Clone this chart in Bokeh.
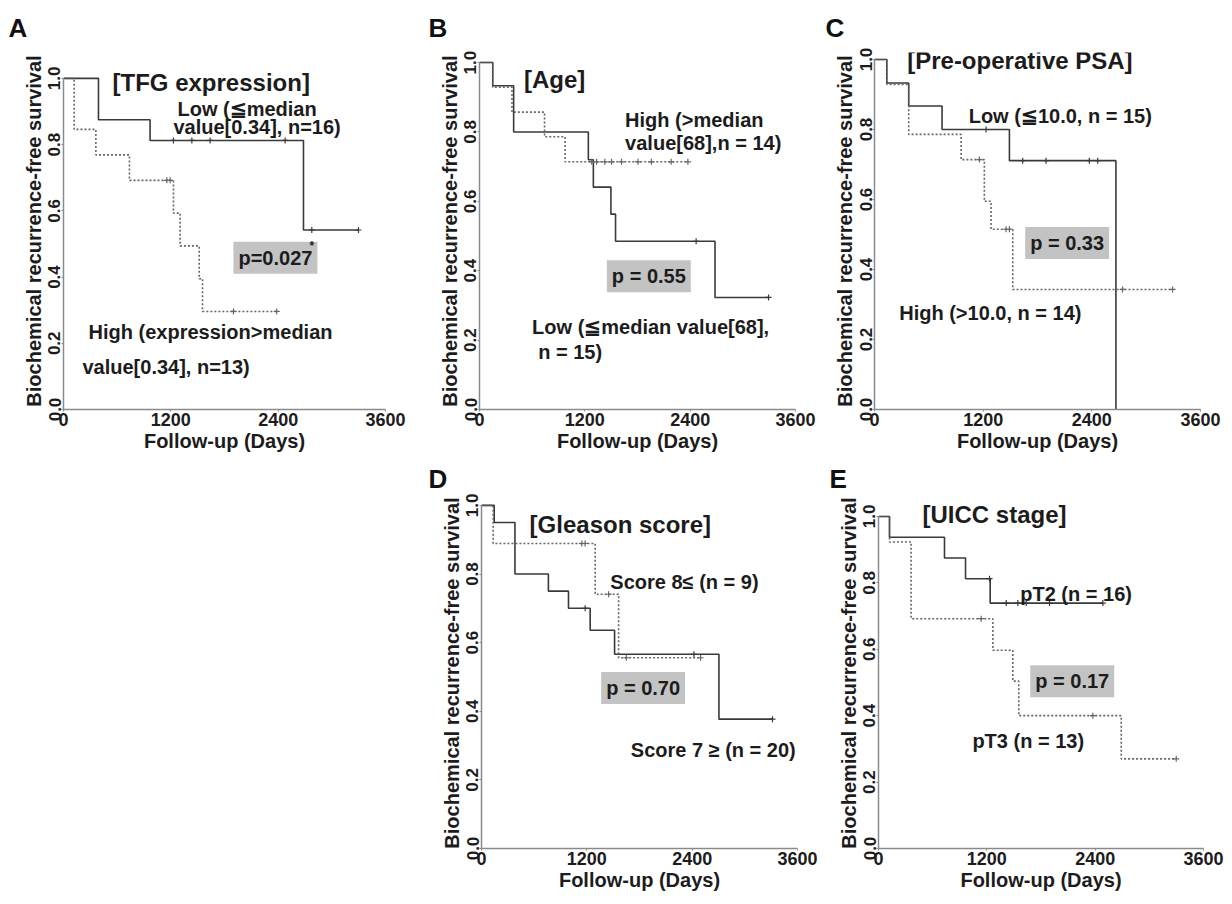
import numpy as np
from bokeh.plotting import figure
from bokeh.models import Range1d, FixedTicker, Label, Spacer
from bokeh.layouts import column, row
from bokeh.embed import file_html
from bokeh.resources import INLINE

FONT = "Liberation Sans"

# ---------------- axis ticks ----------------
x_ticks = [0, 1200, 2400, 3600]
x_tick_labels = ["0", "1200", "2400", "3600"]
y_ticks = [0.0, 0.2, 0.4, 0.6, 0.8, 1.0]
y_tick_labels = ["0.0", "0.2", "0.4", "0.6", "0.8", "1.0"]
x_label = "Follow-up (Days)"
y_label = "Biochemical recurrence-free survival"

# ---------------- A: TFG expression ----------------
A_low_t = [0, 391, 968, 2683, 3298]
A_low_s = [1.0, 0.875, 0.8125, 0.542, 0.542]
A_low_cens = [1229, 1435, 1639, 2478, 2776, 3298]
A_high_t = [0, 119, 362, 737, 1229, 1304, 1517, 1554, 2384]
A_high_s = [1.0, 0.846, 0.769, 0.692, 0.593, 0.494, 0.395, 0.296, 0.296]
A_high_cens = [1155, 1192, 1900, 2384]

# ---------------- B: Age ----------------
B_low_t = [0, 151, 389, 1240, 1297, 1497, 1550, 2683, 3293]
B_low_s = [1.0, 0.933, 0.80, 0.72, 0.641, 0.563, 0.485, 0.323, 0.323]
B_low_cens = [2468, 3293]
B_high_t = [0, 151, 370, 741, 975, 2374]
B_high_s = [1.0, 0.929, 0.857, 0.786, 0.714, 0.714]
B_high_cens = [1278, 1334, 1428, 1504, 1618, 1806, 1958, 2184, 2374]

# ---------------- C: Pre-operative PSA ----------------
C_low_t = [0, 136, 378, 746, 1490, 2666]
C_low_s = [1.0, 0.933, 0.867, 0.80, 0.711, 0.0]
C_low_cens = [1232, 1637, 1894, 2372, 2465]
C_high_t = [0, 136, 378, 956, 1213, 1287, 1527, 3292]
C_high_s = [1.0, 0.929, 0.786, 0.714, 0.595, 0.515, 0.343, 0.343]
C_high_cens = [1159, 1453, 1490, 2740, 3292]

# ---------------- D: Gleason score ----------------
D_le7_t = [0, 145, 381, 762, 991, 1238, 1516, 2705, 3315]
D_le7_s = [1.0, 0.95, 0.80, 0.75, 0.70, 0.636, 0.566, 0.377, 0.377]
D_le7_cens = [1181, 2420, 3315]
D_ge8_t = [0, 133, 1295, 1562, 2496]
D_ge8_s = [1.0, 0.889, 0.741, 0.556, 0.556]
D_ge8_cens = [1143, 1181, 1448, 1650, 2496]

# ---------------- E: UICC stage ----------------
E_pT2_t = [0, 122, 731, 964, 1237, 2485]
E_pT2_s = [1.0, 0.9375, 0.875, 0.8125, 0.739, 0.739]
E_pT2_cens = [1230, 1415, 1544, 1636, 1894, 2485]
E_pT3_t = [0, 122, 361, 1267, 1488, 1554, 2689, 3298]
E_pT3_s = [1.0, 0.923, 0.692, 0.597, 0.504, 0.40, 0.27, 0.27]
E_pT3_cens = [1137, 2375, 3298]

SOLID = dict(line_color="#3a3a3a", line_width=1.6)
DOTTED = dict(line_color="#666666", line_width=1.6, line_dash="2 2")
TXT = "#1c1c1c"


def surv_at(times, surv, pts):
    t = np.asarray(times, float)
    s = np.asarray(surv, float)
    idx = np.searchsorted(t, np.asarray(pts, float), side="right") - 1
    return s[idx]


def make_panel(letter, letter_off, letter_standoff, curves, texts, pval, star,
               W, H, L, R, T, B, ytop):
    p = figure(width=W, height=H, title=letter,
               min_border_left=L, min_border_right=R,
               min_border_top=T, min_border_bottom=B,
               x_range=Range1d(0, 3600), y_range=Range1d(0, ytop),
               output_backend="svg", toolbar_location=None, tools="")
    p.outline_line_color = None
    p.xgrid.visible = False
    p.ygrid.visible = False
    p.background_fill_color = "white"
    p.border_fill_color = "white"

    p.title.align = "left"
    p.title.offset = letter_off
    p.title.standoff = letter_standoff
    p.title.text_font = FONT
    p.title.text_font_size = "26px"
    p.title.text_font_style = "bold"
    p.title.text_color = "#111111"

    for ax in (p.xaxis[0], p.yaxis[0]):
        ax.axis_line_color = "#8a8a8a"
        ax.axis_line_width = 1.5
        ax.major_tick_line_color = "#8a8a8a"
        ax.major_tick_out = 2
        ax.major_tick_in = 0
        ax.minor_tick_line_color = None
        ax.major_label_standoff = 1
        ax.axis_label_standoff = 1
        ax.major_label_text_font = FONT
        ax.major_label_text_font_style = "bold"
        ax.major_label_text_color = TXT
        ax.axis_label_text_font = FONT
        ax.axis_label_text_font_style = "bold"
        ax.axis_label_text_color = TXT

    p.xaxis.ticker = FixedTicker(ticks=x_ticks)
    p.xaxis.major_label_overrides = dict(zip(x_ticks, x_tick_labels))
    p.xaxis.major_label_text_font_size = "18px"
    p.xaxis.axis_label = x_label
    p.xaxis.axis_label_text_font_size = "20px"

    p.yaxis.ticker = FixedTicker(ticks=y_ticks)
    p.yaxis.major_label_overrides = dict(zip(y_ticks, y_tick_labels))
    p.yaxis.major_label_orientation = "vertical"
    p.yaxis.major_label_text_font_size = "17px"
    p.yaxis.axis_label = y_label
    p.yaxis.axis_label_text_font_size = "20px"
    p.yaxis.bounds = (0, 1.0)

    for t, s, c, style in curves:
        sty = SOLID if style == "solid" else DOTTED
        p.step(t, s, mode="after", **sty)
        p.scatter(c, surv_at(t, s, c), marker="cross", size=6,
                  line_color=sty["line_color"], line_width=1.2)

    for txt, x, y, size in texts:
        p.add_layout(Label(x=x, y=y, text=txt, text_font=FONT,
                           text_font_size=size, text_font_style="bold",
                           text_color=TXT, text_baseline="middle",
                           text_align="left"))
    ptxt, px, py = pval
    p.add_layout(Label(x=px, y=py, text=ptxt, text_font=FONT,
                       text_font_size="20px", text_font_style="bold",
                       text_color=TXT, text_baseline="middle", text_align="left",
                       background_fill_color="#c3c3c3", padding=5))
    if star is not None:
        p.add_layout(Label(x=star[0], y=star[1], text="*", text_font=FONT,
                           text_font_size="12px", text_font_style="bold",
                           text_color=TXT, text_baseline="middle"))
    return p


pA = make_panel("A", -55, 20,
                [(A_low_t, A_low_s, A_low_cens, "solid"),
                 (A_high_t, A_high_s, A_high_cens, "dotted")],
                [("[TFG expression]", 548, 0.988, "24px"),
                 ("Low (\u2266median", 1274, 0.907, "20px"),
                 ("value[0.34], n=16)", 1229, 0.854, "20px"),
                 ("High (expression>median", 280, 0.233, "20px"),
                 ("value[0.34], n=13)", 212, 0.128, "20px")],
                ("p=0.027", 1900, 0.458), (2750, 0.493),
                408, 458, 63, 23, 50, 49, 1.078)

pB = make_panel("B", -51, 20,
                [(B_low_t, B_low_s, B_low_cens, "solid"),
                 (B_high_t, B_high_s, B_high_cens, "dotted")],
                [("[Age]", 507, 0.952, "24px"),
                 ("High (>median", 1659, 0.835, "20px"),
                 ("value[68],n = 14)", 1659, 0.767, "20px"),
                 ("Low (\u2266median value[68],", 599, 0.239, "20px"),
                 (" n = 15)", 668, 0.167, "20px")],
                ("p = 0.55", 1451, 0.384), None,
                414, 458, 71, 27, 50, 49, 1.029)

pC = make_panel("C", -49, 20,
                [(C_low_t, C_low_s, C_low_cens, "solid"),
                 (C_high_t, C_high_s, C_high_cens, "dotted")],
                [("[Pre-operative PSA]", 361, 0.996, "24px"),
                 ("Low (\u226610.0, n = 15)", 1040, 0.839, "20px"),
                 ("High (>10.0, n = 14)", 273, 0.275, "20px")],
                ("p = 0.33", 1664, 0.476), None,
                402, 458, 52, 24, 50, 49, 1.020)

pD = make_panel("D", -53, 7,
                [(D_le7_t, D_le7_s, D_le7_cens, "solid"),
                 (D_ge8_t, D_ge8_s, D_ge8_cens, "dotted")],
                [("[Gleason score]", 548, 0.944, "24px"),
                 ("Score 8\u2264 (n = 9)", 1468, 0.776, "20px"),
                 ("Score 7 \u2265 (n = 20)", 1701, 0.287, "20px")],
                ("p = 0.70", 1363, 0.468), None,
                414, 438, 73, 25, 37, 48, 1.023)

pE = make_panel("E", -49, 7,
                [(E_pT2_t, E_pT2_s, E_pT2_cens, "solid"),
                 (E_pT3_t, E_pT3_s, E_pT3_cens, "dotted")],
                [("[UICC stage]", 487, 1.006, "24px"),
                 ("pT2 (n = 16)", 1570, 0.766, "20px"),
                 ("pT3 (n = 13)", 1040, 0.324, "20px")],
                ("p = 0.17", 1681, 0.504), None,
                402, 438, 56, 21, 37, 48, 1.057)

layout = column(row(pA, pB, pC),
                row(Spacer(width=408, height=438), pD, pE))

open("out.html", "w").write(file_html(layout, INLINE))
